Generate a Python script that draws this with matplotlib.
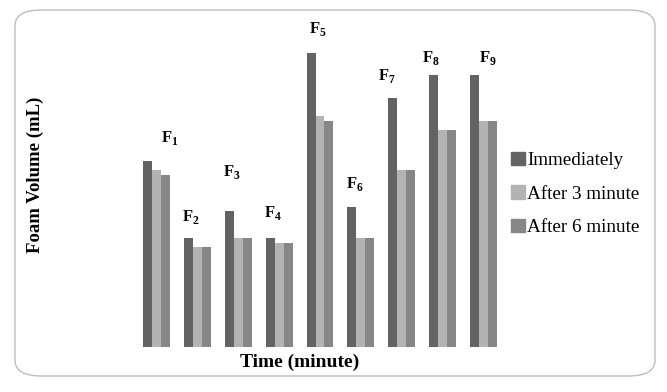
import matplotlib.pyplot as plt
from matplotlib.patches import FancyBboxPatch, Patch
import numpy as np

plt.rcParams['font.family'] = ['Liberation Serif', 'DejaVu Serif']
plt.rcParams['mathtext.fontset'] = 'custom'
plt.rcParams['mathtext.bf'] = 'Liberation Serif:bold'
plt.rcParams['mathtext.rm'] = 'Liberation Serif'

formulas = ['1', '2', '3', '4', '5', '6', '7', '8', '9']
immediately = [41, 24, 30, 24, 65, 31, 55, 60, 60]
after3 = [39, 22, 24, 23, 51, 24, 39, 48, 50]
after6 = [38, 22, 24, 23, 50, 24, 39, 48, 50]
series = ['Immediately', 'After 3 minute', 'After 6 minute']
colors = ['#636363', '#b3b3b3', '#878787']

# label nudges in pixels (x, y above the tallest bar)
label_dx = [13, -6, -6, -6, -2, -6, -15, -12, 4]
label_dy = [23, 21, 39, 25, 24, 23, 22, 17, 17]

fig = plt.figure(figsize=(6.67, 3.92), dpi=100)
fig.patches.append(FancyBboxPatch((15/667, 16/392), 640/667, 366/392,
                                  boxstyle='round,pad=0,rounding_size=0.04',
                                  transform=fig.transFigure, fc='white',
                                  ec='#bdbdbd', lw=1.0, zorder=-1))

ax = fig.add_axes([136/667, 45/392, 368/667, 317/392])
ax.patch.set_alpha(0)
x = np.arange(len(formulas))
w = 0.22
ax.bar(x - w, immediately, w, color=colors[0])
ax.bar(x, after3, w, color=colors[1])
ax.bar(x + w, after6, w, color=colors[2])

for i, f in enumerate(formulas):
    ax.annotate(r'$\mathbf{F}_{\mathbf{' + f + '}}$',
                (x[i], immediately[i]),
                xytext=(label_dx[i] * 0.72, label_dy[i] * 0.72),
                textcoords='offset points', ha='center', va='center',
                fontsize=12)

ax.set_xlim(-0.5, 8.5)
ax.set_ylim(0, 70)
ax.set_xticks([])
ax.set_yticks([])
for s in ax.spines.values():
    s.set_visible(False)

fig.text(35/667, 1 - 175/392, 'Foam Volume (mL)', rotation=90,
         ha='center', va='center', fontsize=13.5, fontweight='bold')
fig.text(300/667, 1 - 362/392, 'Time (minute)', ha='center', va='center',
         fontsize=14, fontweight='bold')

handles = [Patch(color=c, label=s) for c, s in zip(colors, series)]
fig.legend(handles=handles, loc='center left',
           bbox_to_anchor=(501/667, 1 - 194/392), frameon=False,
           borderpad=0, handlelength=0.75, handleheight=0.7,
           handletextpad=0.1, labelspacing=0.85, fontsize=13.8)

fig.savefig('out.png', dpi=100)
